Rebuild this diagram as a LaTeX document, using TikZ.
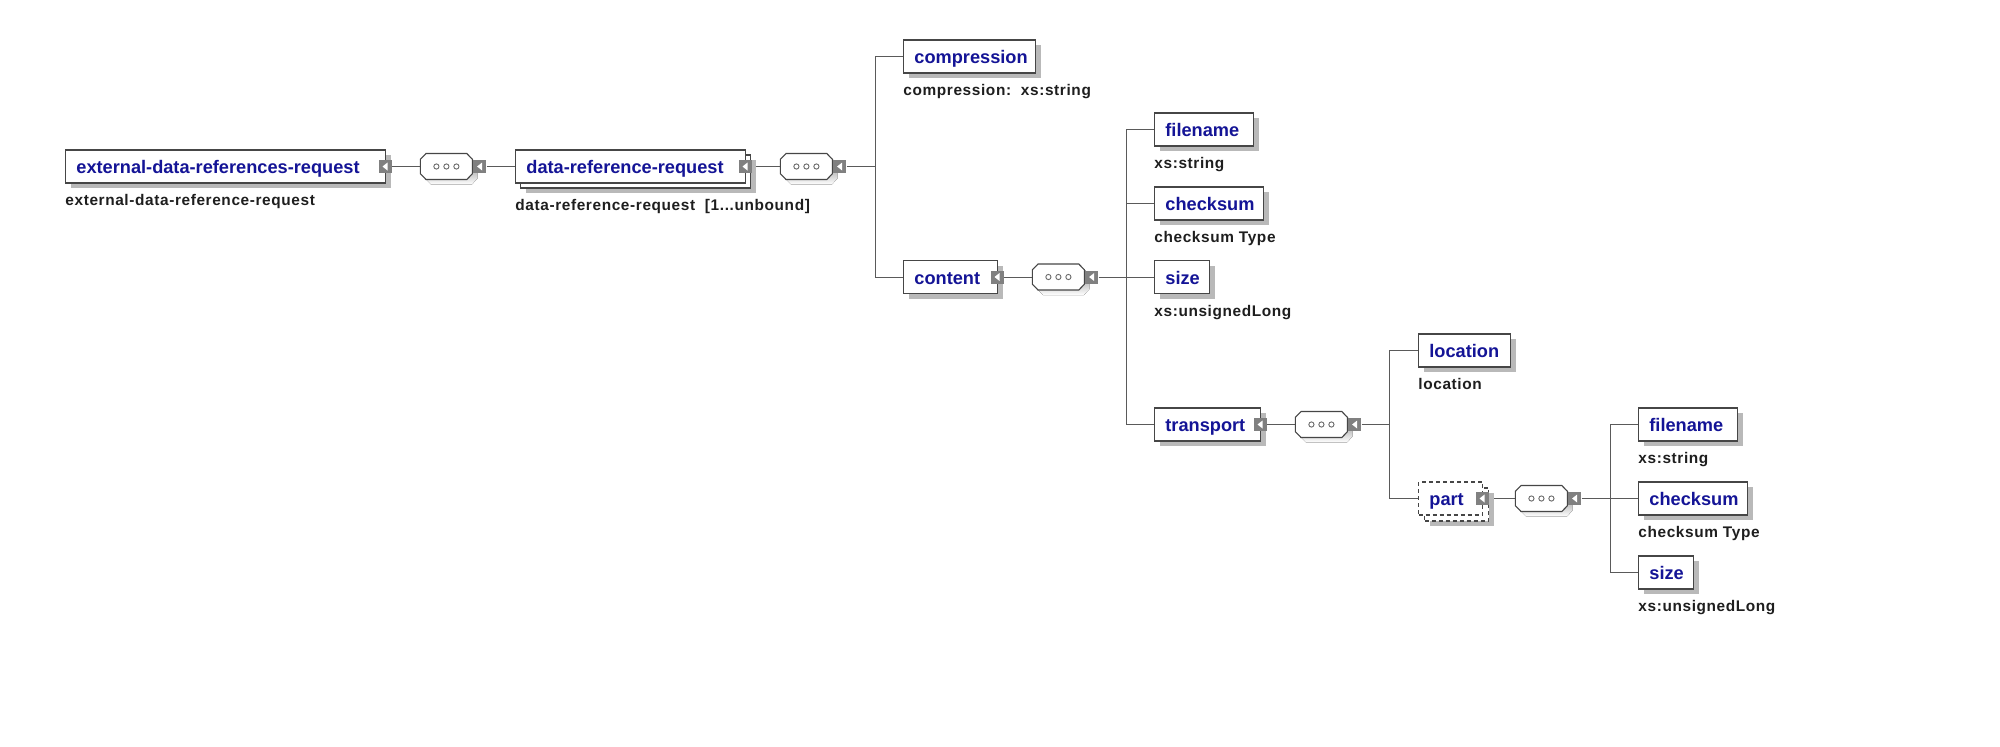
\documentclass[tikz,border=0pt]{standalone}
\usepackage{fontspec}
\setmainfont{Liberation Sans}
\newfontfamily\lblfont[LetterSpace=4]{Liberation Sans}
\usetikzlibrary{shadows,backgrounds}
\definecolor{xblue}{RGB}{20,20,150}
\definecolor{boxline}{RGB}{70,70,70}
\definecolor{conline}{RGB}{90,90,90}
\definecolor{shade}{RGB}{185,185,185}
\definecolor{tog}{RGB}{128,128,128}
\definecolor{lbl}{RGB}{30,30,30}
\newcommand\octpath{(-13pt,-3.6pt) -- (-13pt,3.6pt) -- (-10.2pt,6.5pt) -- (10.2pt,6.5pt) -- (13pt,3.6pt) -- (13pt,-3.6pt) -- (10.2pt,-6.5pt) -- (-10.2pt,-6.5pt) -- cycle}
\newcommand\seqshape[1]{%
  \fill[shade, shift={([xshift=2.5pt,yshift=-2.5pt]#1.center)}] \octpath;
  \filldraw[fill=white, draw=boxline, line width=0.55pt, shift={(#1.center)}] \octpath;
  \foreach \dx in {-5pt,0pt,5pt} \draw[boxline!80, line width=0.45pt] ([xshift=\dx]#1.center) circle[radius=1.3pt];}
\begin{document}
\begin{tikzpicture}[x=0.5pt,y=-0.5pt,
  shd/.style={drop shadow={shadow xshift=2.5pt, shadow yshift=-2.5pt, fill=shade, opacity=1}},
  plain/.style={draw=boxline, line width=0.55pt, fill=white, rectangle, inner sep=0pt, minimum height=16.5pt, anchor=west},
  elem/.style={plain, shd},
  optl/.style={dash pattern=on 2pt off 1.5pt},
  ename/.style={font=\bfseries\fontsize{9.1}{10}\selectfont, text=xblue, inner sep=0pt, anchor=base west},
  tlabel/.style={font=\lblfont\bfseries\fontsize{7.7}{9}\selectfont, text=lbl, inner sep=0pt, anchor=base west},
  toggle/.style={rectangle, fill=tog, minimum size=6.5pt, inner sep=0pt, path picture={\fill[white,shift={(path picture bounding box.center)}] (-1.3pt,0pt) -- (1.2pt,2pt) -- (1.2pt,-2pt) -- cycle;}},
  seqbox/.style={rectangle, minimum width=26pt, minimum height=13pt, inner sep=0pt, anchor=west},
  conn/.style={draw=conline, line width=0.5pt}
]
\useasboundingbox (0,0) rectangle (2000,746);

% root element
\node[elem, minimum width=160pt] (ext) at (65,166.5) {};
\node[ename] (extN) at ([xshift=5.5pt,yshift=-3.5pt]ext.west) {external-data-references-request};
\node[toggle] (extT) at ([xshift=-0.5pt]ext.east) {};
\node[tlabel] (extL) at ([yshift=-11pt]ext.south west) {external-data-reference-request};

\node[seqbox] (seq1) at (420,166.5) {};
\seqshape{seq1}
\node[toggle, anchor=west] (seq1T) at (seq1.east) {};

% data-reference-request (multiple)
\node[elem, minimum width=115pt] (drB) at (520,171.5) {};
\node[plain, minimum width=115pt] (dr) at (515,166.5) {};
\node[ename] (drN) at ([xshift=5.5pt,yshift=-3.5pt]dr.west) {data-reference-request};
\node[toggle] (drT) at ([xshift=-0.5pt]dr.east) {};
\node[tlabel] (drL) at ([yshift=-11pt]dr.west |- drB.south) {data-reference-request\ \ [1...unbound]};

\node[seqbox] (seq2) at (780,166.5) {};
\seqshape{seq2}
\node[toggle, anchor=west] (seq2T) at (seq2.east) {};
\coordinate (b2) at (875,166.5);

\node[elem, minimum width=66pt] (comp) at (903,56.5) {};
\node[ename] (compN) at ([xshift=5.5pt,yshift=-3.5pt]comp.west) {compression};
\node[tlabel] (compL) at ([yshift=-11pt]comp.south west) {compression:\ \ xs:string};

\node[elem, minimum width=47pt] (content) at (903,277) {};
\node[ename] (contentN) at ([xshift=5.5pt,yshift=-3.5pt]content.west) {content};
\node[toggle] (contentT) at ([xshift=-0.5pt]content.east) {};

\node[seqbox] (seq3) at (1032,277) {};
\seqshape{seq3}
\node[toggle, anchor=west] (seq3T) at (seq3.east) {};
\coordinate (b3) at (1126,277);

\node[elem, minimum width=49.5pt] (fn) at (1154,129.5) {};
\node[ename] (fnN) at ([xshift=5.5pt,yshift=-3.5pt]fn.west) {filename};
\node[tlabel] (fnL) at ([yshift=-11pt]fn.south west) {xs:string};

\node[elem, minimum width=54.5pt] (cs) at (1154,203.5) {};
\node[ename] (csN) at ([xshift=5.5pt,yshift=-3.5pt]cs.west) {checksum};
\node[tlabel] (csL) at ([yshift=-11pt]cs.south west) {checksum Type};

\node[elem, minimum width=27.5pt] (sz) at (1154,277) {};
\node[ename] (szN) at ([xshift=5.5pt,yshift=-3.5pt]sz.west) {size};
\node[tlabel] (szL) at ([yshift=-11pt]sz.south west) {xs:unsignedLong};

\node[elem, minimum width=53pt] (tr) at (1154,424.5) {};
\node[ename] (trN) at ([xshift=5.5pt,yshift=-3.5pt]tr.west) {transport};
\node[toggle] (trT) at ([xshift=-0.5pt]tr.east) {};

\node[seqbox] (seq4) at (1295,424.5) {};
\seqshape{seq4}
\node[toggle, anchor=west] (seq4T) at (seq4.east) {};
\coordinate (b4) at (1389,424.5);

\node[elem, minimum width=46pt] (loc) at (1418,350.5) {};
\node[ename] (locN) at ([xshift=5.5pt,yshift=-3.5pt]loc.west) {location};
\node[tlabel] (locL) at ([yshift=-11pt]loc.south west) {location};

% optional, multiple part
\node[elem, optl, minimum width=32pt] (ptB) at (1424,504.5) {};
\node[plain, optl, minimum width=32pt] (pt) at (1418,498.5) {};
\node[ename] (ptN) at ([xshift=5.5pt,yshift=-3.5pt]pt.west) {part};
\node[toggle] (ptT) at ([xshift=-0.5pt]pt.east) {};

\node[seqbox] (seq5) at (1515,498.5) {};
\seqshape{seq5}
\node[toggle, anchor=west] (seq5T) at (seq5.east) {};
\coordinate (b5) at (1610,498.5);

\node[elem, minimum width=49.5pt] (fn2) at (1638,424.5) {};
\node[ename] (fn2N) at ([xshift=5.5pt,yshift=-3.5pt]fn2.west) {filename};
\node[tlabel] (fn2L) at ([yshift=-11pt]fn2.south west) {xs:string};

\node[elem, minimum width=54.5pt] (cs2) at (1638,498.5) {};
\node[ename] (cs2N) at ([xshift=5.5pt,yshift=-3.5pt]cs2.west) {checksum};
\node[tlabel] (cs2L) at ([yshift=-11pt]cs2.south west) {checksum Type};

\node[elem, minimum width=27.5pt] (sz2) at (1638,572.5) {};
\node[ename] (sz2N) at ([xshift=5.5pt,yshift=-3.5pt]sz2.west) {size};
\node[tlabel] (sz2L) at ([yshift=-11pt]sz2.south west) {xs:unsignedLong};

\begin{scope}[on background layer]
\draw[conn] (extT.east) -- (seq1.west);
\draw[conn] (seq1T.east) -- (dr.west);
\draw[conn] (drT.east) -- (seq2.west);
\draw[conn] (seq2T.east) -- (b2);
\draw[conn] (b2) |- (comp.west);
\draw[conn] (b2) |- (content.west);
\draw[conn] (contentT.east) -- (seq3.west);
\draw[conn] (seq3T.east) -- (b3);
\draw[conn] (b3) |- (fn.west);
\draw[conn] (b3) |- (cs.west);
\draw[conn] (b3) -- (sz.west);
\draw[conn] (b3) |- (tr.west);
\draw[conn] (trT.east) -- (seq4.west);
\draw[conn] (seq4T.east) -- (b4);
\draw[conn] (b4) |- (loc.west);
\draw[conn] (b4) |- (pt.west);
\draw[conn] (ptT.east) -- (seq5.west);
\draw[conn] (seq5T.east) -- (b5);
\draw[conn] (b5) |- (fn2.west);
\draw[conn] (b5) -- (cs2.west);
\draw[conn] (b5) |- (sz2.west);
\end{scope}
\end{tikzpicture}
\end{document}
